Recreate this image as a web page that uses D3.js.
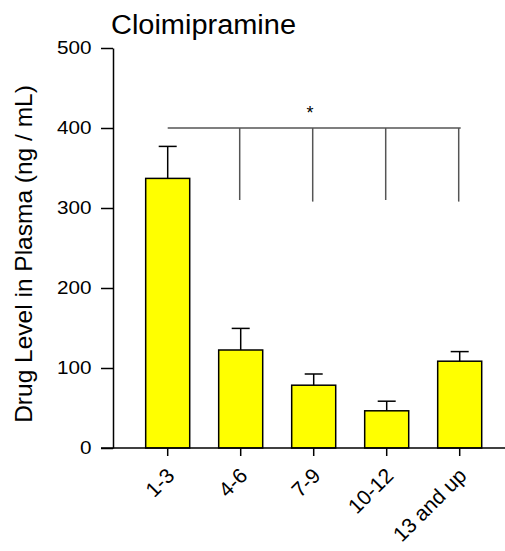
<!DOCTYPE html>
<html><head><meta charset="utf-8">
<script src="https://cdn.jsdelivr.net/npm/d3@7/dist/d3.min.js"></script>
<style>body{margin:0;background:#fff}svg{display:block}text{font-family:Arial,"Liberation Sans",sans-serif;fill:#000}</style>
</head><body>
<script>
const categories = ["1-3", "4-6", "7-9", "10-12", "13 and up"];
const means = [337, 122.5, 78.5, 46.5, 108.5];
const errUpper = [377, 149.5, 92.5, 58.5, 120.5];
const yTicks = [0, 100, 200, 300, 400, 500];
const bracketLevel = 400;
const bracketDrops = [310, 308, 310, 308];
const title = "Cloimipramine";
const yLabel = "Drug Level in Plasma (ng / mL)";

const W = 505, H = 551;
const svg = d3.select("body").append("svg").attr("width", W).attr("height", H);

const x = d3.scaleBand().domain(categories).range([131.2, 496.2]).paddingInner(0.397).paddingOuter(0.1985);
const y = d3.scaleLinear().domain([0, 500]).range([448, 48]);
const cx = d => x(d) + x.bandwidth() / 2;

// Title
svg.append("text").attr("x", 111).attr("y", 34).attr("font-size", 27)
  .attr("textLength", 185).attr("lengthAdjust", "spacingAndGlyphs").text(title);

// Y axis
const sx = 1.15;
const yAxis = svg.append("g").attr("transform", "translate(113,0)")
  .call(d3.axisLeft(y).tickValues(yTicks).tickSize(12).tickPadding(10).tickSizeOuter(0));
yAxis.select(".domain").attr("stroke", "#000").attr("stroke-width", 1.5);
yAxis.selectAll(".tick line").attr("stroke", "#000").attr("stroke-width", 1.5);
yAxis.selectAll(".tick text").attr("font-size", 18).attr("font-family", "Arial, 'Liberation Sans', sans-serif")
  .attr("x", -21.5 / sx).attr("transform", `scale(${sx},1)`);

// Y label
svg.append("text").attr("transform", "translate(32,254) rotate(-90)")
  .attr("text-anchor", "middle").attr("font-size", 24.5).text(yLabel);

// Bars
svg.append("g").selectAll("rect").data(categories).join("rect")
  .attr("x", d => x(d)).attr("width", x.bandwidth())
  .attr("y", (d, i) => y(means[i])).attr("height", (d, i) => y(0) - y(means[i]))
  .attr("fill", "#ffff00").attr("stroke", "#000").attr("stroke-width", 1.5);

// Error bars
const eb = svg.append("g").attr("stroke", "#000").attr("stroke-width", 1.5);
categories.forEach((c, i) => {
  eb.append("line").attr("x1", cx(c)).attr("x2", cx(c)).attr("y1", y(means[i])).attr("y2", y(errUpper[i]));
  eb.append("line").attr("x1", cx(c) - 9).attr("x2", cx(c) + 9).attr("y1", y(errUpper[i])).attr("y2", y(errUpper[i]));
});

// X axis
const xAxis = svg.append("g").attr("transform", "translate(0,448)")
  .call(d3.axisBottom(x).tickSize(8).tickSizeOuter(0));
xAxis.select(".domain").remove();
xAxis.append("line").attr("x1", 101).attr("x2", 505).attr("y1", 0).attr("y2", 0).attr("stroke", "#000").attr("stroke-width", 1.5);
xAxis.selectAll(".tick line").attr("stroke", "#000").attr("stroke-width", 1.5);
xAxis.selectAll(".tick text").attr("font-size", 21).attr("font-family", "Arial, 'Liberation Sans', sans-serif")
  .attr("text-anchor", "end").attr("dy", null).attr("y", 0)
  .attr("transform", "translate(8,29) rotate(-45)");

// Significance bracket
const br = svg.append("g").attr("stroke", "#555").attr("stroke-width", 1.5);
br.append("line").attr("x1", cx(categories[0])).attr("x2", cx(categories[4]) + 1)
  .attr("y1", y(bracketLevel)).attr("y2", y(bracketLevel));
categories.slice(1).forEach((c, i) => {
  br.append("line").attr("x1", cx(c) - 1).attr("x2", cx(c) - 1)
    .attr("y1", y(bracketLevel)).attr("y2", y(bracketDrops[i]));
});
svg.append("text").attr("x", 310).attr("y", 119).attr("text-anchor", "middle").attr("font-size", 18).text("*");
</script>
</body></html>
